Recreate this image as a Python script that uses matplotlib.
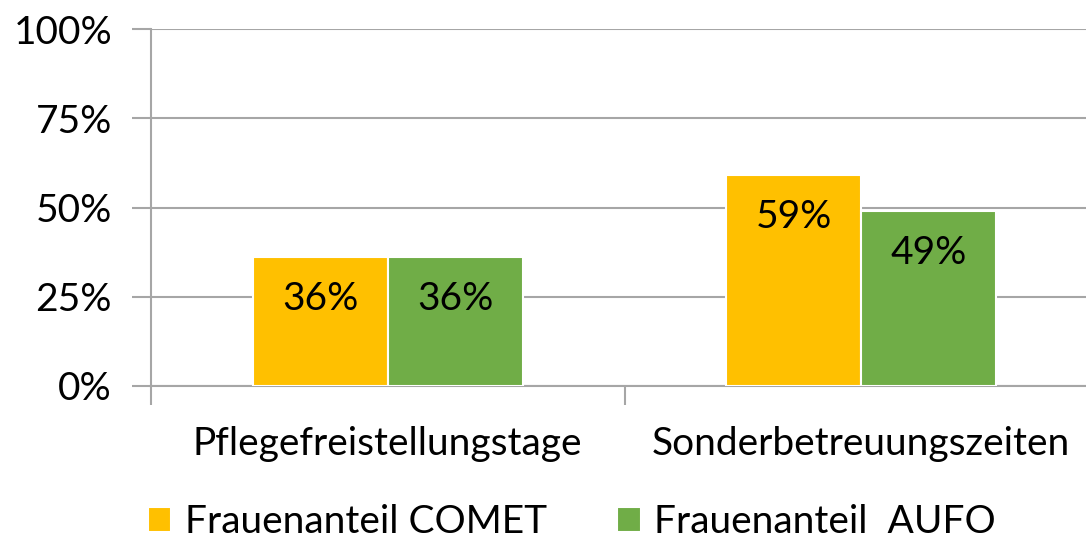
import matplotlib
matplotlib.use("Agg")
import matplotlib.pyplot as plt
import numpy as np

categories = ["Pflegefreistellungstage", "Sonderbetreuungszeiten"]
series_names = ["Frauenanteil COMET", "Frauenanteil  AUFO"]
comet = [0.36, 0.59]
aufo = [0.36, 0.49]
yticks = [0, 0.25, 0.5, 0.75, 1.0]
ytick_labels = ["0%", "25%", "50%", "75%", "100%"]
colors = ["#FFC000", "#70AD47"]

plt.rcParams['font.family'] = ['Lato', 'DejaVu Sans']
FS = 28
W, H = 1086, 540
fig = plt.figure(figsize=(W/100, H/100), dpi=100)
left, right, top, bottom = 151, 1098, 29, 386
ax = fig.add_axes([left/W, 1-bottom/H, (right-left)/W, (bottom-top)/H])

x = np.arange(len(categories))
bw = 0.285
off = 0.143
for vals, c, o, name in [(comet, colors[0], -off, series_names[0]), (aufo, colors[1], off, series_names[1])]:
    bars = ax.bar(x + o, vals, bw, color=c, edgecolor='white', linewidth=1.5, label=name, zorder=3)
    for b, v in zip(bars, vals):
        ax.text(b.get_x()+b.get_width()/2, v - 0.117, f"{round(v*100)}%", ha='center', va='center',
                fontsize=FS, color='black', zorder=4)

ax.set_xlim(-0.5, 1.5)
ax.set_ylim(0, 1.0)
ax.set_yticks(yticks)
ax.set_yticklabels(ytick_labels, fontsize=FS)
ax.yaxis.grid(True, color='#A6A6A6', linewidth=1.5, zorder=0)
ax.set_axisbelow(True)
ax.set_xticks([-0.5, 0.5, 1.5])
ax.set_xticklabels([])
ax.set_xticks(x, minor=True)
ax.set_xticklabels(categories, minor=True, fontsize=FS)
ax.tick_params(axis='x', which='minor', length=0, pad=29)
ax.tick_params(axis='x', which='major', length=14, color='#A6A6A6', width=1.5)
ax.tick_params(axis='y', length=14, color='#A6A6A6', width=1.5, pad=14)
for s in ['top', 'right']:
    ax.spines[s].set_visible(False)
for s in ['left', 'bottom']:
    ax.spines[s].set_color('#A6A6A6')
    ax.spines[s].set_linewidth(1.5)

handles, labels = ax.get_legend_handles_labels()
fig.legend(handles, labels, loc='center', bbox_to_anchor=(572/W, 1-522/H), ncol=2, frameon=False,
           fontsize=FS, handlelength=0.6, handleheight=0.6, handletextpad=0.35, columnspacing=1.8)

fig.savefig("out.png", dpi=100)
